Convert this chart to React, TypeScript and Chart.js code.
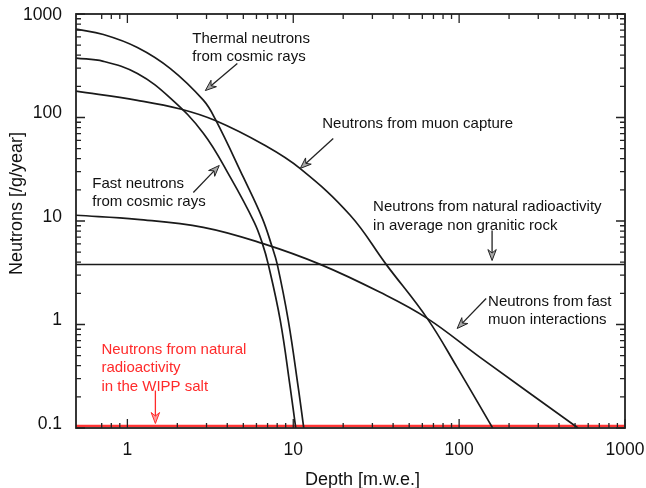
import React, { useEffect, useRef } from 'react';
import { Chart, registerables } from 'chart.js';
Chart.register(...registerables);

// ---- axis ranges / ticks ----
const X_MIN = 0.49;
const X_MAX = 1000;
const Y_MIN = 0.1;
const Y_MAX = 1000;
const xTickValues = [1, 10, 100, 1000];
const yTickValues = [0.1, 1, 10, 100, 1000];
const X_MINOR_START = 0.7;

// ---- series (depth in m.w.e., neutrons per g per year) ----
const thermalX = [0.49, 0.717, 1.149, 1.816, 2.87, 3.389, 5.0, 6.51, 7.47, 8.01, 9.33, 10.72, 11.57];
const thermalY = [714, 634, 475, 297, 147, 96.3, 26.5, 10.6, 5.57, 3.81, 1.096, 0.246, 0.1];

const fastCosmicX = [0.49, 0.717, 1.149, 1.816, 2.87, 4.17, 5.82, 6.51, 7.07, 8.35, 9.59, 10.35];
const fastCosmicY = [375, 349, 266, 154, 70.5, 26.5, 9.71, 6.08, 3.81, 1.096, 0.246, 0.1];

const muonCaptureX = [0.49, 1.149, 2.086, 3.389, 6.6, 11.02, 22.05, 36.3, 64.2, 97.3, 159.2];
const muonCaptureY = [179.7, 146.4, 120.9, 93.5, 54.8, 32.05, 11.36, 3.81, 1.146, 0.385, 0.1];

const fastMuonX = [0.49, 1.149, 2.87, 6.51, 14.54, 33.4, 64.2, 133.8, 521];
const fastMuonY = [11.36, 10.39, 8.69, 6.08, 3.81, 2.044, 1.146, 0.481, 0.1];

const rockX = [0.49, 1000];
const rockY = [3.8, 3.8];

const wippX = [0.49, 1000];
const wippY = [0.105, 0.105];

// ---- annotations (anchors in data units) ----
const annotations = [
  { lines: ['Thermal neutrons', 'from cosmic rays'], x: 2.464, y: 530, color: '#111',
    arrow: [4.6, 332, 2.95, 182] },
  { lines: ['Neutrons from muon capture'], x: 14.95, y: 80, color: '#111',
    arrow: [17.42, 62.7, 11.02, 32.2] },
  { lines: ['Fast neutrons', 'from cosmic rays'], x: 0.615, y: 21.07, color: '#111',
    arrow: [2.498, 18.85, 3.58, 34.4] },
  { lines: ['Neutrons from natural radioactivity', 'in average non granitic rock'], x: 30.3, y: 12.36, color: '#111',
    arrow: [158, 8.09, 158, 4.15] },
  { lines: ['Neutrons from fast', 'muon interactions'], x: 149.5, y: 1.526, color: '#111',
    arrow: [145.5, 1.783, 97.3, 0.915] },
  { lines: ['Neutrons from natural', 'radioactivity', 'in the WIPP salt'], x: 0.697, y: 0.5245, color: '#ff2a2a',
    arrow: [1.475, 0.2303, 1.475, 0.1105] },
];

const FONT = "'Liberation Sans', Arial, Helvetica, sans-serif";

function pts(xs: number[], ys: number[]) {
  return xs.map((x, i) => ({ x, y: ys[i] }));
}

function drawArrow(ctx: CanvasRenderingContext2D, x1: number, y1: number, x2: number, y2: number, color: string, fill: string) {
  const ang = Math.atan2(y2 - y1, x2 - x1);
  const c = Math.cos(ang), s = Math.sin(ang);
  const L = 11, W = 4.2, notch = 3.5;
  const nx = x2 - (L - notch) * c, ny = y2 - (L - notch) * s;
  const bx = x2 - L * c, by = y2 - L * s;
  const px = -s, py = c;
  ctx.save();
  ctx.strokeStyle = color;
  ctx.lineWidth = 1.3;
  ctx.beginPath();
  ctx.moveTo(x1, y1);
  ctx.lineTo(nx, ny);
  ctx.stroke();
  ctx.beginPath();
  ctx.moveTo(x2, y2);
  ctx.lineTo(bx + W * px, by + W * py);
  ctx.lineTo(nx, ny);
  ctx.lineTo(bx - W * px, by - W * py);
  ctx.closePath();
  ctx.fillStyle = fill;
  ctx.fill();
  ctx.lineWidth = 1;
  ctx.stroke();
  ctx.restore();
}

const framePlugin = {
  id: 'frameTicksAnnotations',
  afterDatasetsDraw(chart: any) {
    const ctx: CanvasRenderingContext2D = chart.ctx;
    const { left, right, top, bottom } = chart.chartArea;
    const xs = chart.scales.x;
    const ys = chart.scales.y;
    ctx.save();
    // frame
    ctx.strokeStyle = '#222';
    ctx.lineWidth = 1.8;
    ctx.strokeRect(left, top, right - left, bottom - top);
    // ticks
    ctx.lineWidth = 1.3;
    ctx.beginPath();
    for (let e = -2; e <= 3; e++) {
      for (let j = 1; j <= 9; j++) {
        const v = j * Math.pow(10, e);
        const major = j === 1;
        const len = major ? 9 : 5;
        if (v >= X_MINOR_START - 1e-9 && v <= X_MAX + 1e-9) {
          const px = xs.getPixelForValue(v);
          ctx.moveTo(px, bottom); ctx.lineTo(px, bottom - len);
          ctx.moveTo(px, top); ctx.lineTo(px, top + len);
        }
        if (v >= Y_MIN - 1e-9 && v <= Y_MAX + 1e-9) {
          const py = ys.getPixelForValue(v);
          ctx.moveTo(left, py); ctx.lineTo(left + len, py);
          ctx.moveTo(right, py); ctx.lineTo(right - len, py);
        }
      }
    }
    ctx.stroke();

    // y tick labels
    ctx.fillStyle = '#111';
    ctx.font = `17.5px ${FONT}`;
    ctx.textAlign = 'right';
    ctx.textBaseline = 'middle';
    for (const v of yTickValues) {
      const py = Math.max(ys.getPixelForValue(v) - 4, top + 1.5);
      ctx.fillText(String(v), left - 14, py);
    }

    // axis titles
    ctx.font = `18px ${FONT}`;
    ctx.textAlign = 'center';
    ctx.textBaseline = 'alphabetic';
    ctx.fillText('Depth [m.w.e.]', (left + right) / 2 + 12, 485);
    ctx.save();
    ctx.translate(21.5, (top + bottom) / 2 - 17.5);
    ctx.rotate(-Math.PI / 2);
    ctx.fillText('Neutrons [/g/year]', 0, 0);
    ctx.restore();

    // annotations
    ctx.font = `15px ${FONT}`;
    ctx.textAlign = 'left';
    for (const a of annotations) {
      const tx = xs.getPixelForValue(a.x);
      const ty = ys.getPixelForValue(a.y);
      ctx.fillStyle = a.color;
      a.lines.forEach((ln, i) => ctx.fillText(ln, tx, ty + i * 18.6));
      const [fx, fy, tx2, ty2] = a.arrow;
      const red = a.color !== '#111';
      drawArrow(ctx, xs.getPixelForValue(fx), ys.getPixelForValue(fy), xs.getPixelForValue(tx2), ys.getPixelForValue(ty2),
        red ? '#ff2a2a' : '#222', red ? '#ff9a9a' : '#a8a8a8');
    }
    ctx.restore();
  },
};

export default function App() {
  const ref = useRef<HTMLCanvasElement | null>(null);
  useEffect(() => {
    if (!ref.current) return;
    const line = (xs: number[], ys: number[], color: string, width: number) => ({
      data: pts(xs, ys),
      borderColor: color,
      borderWidth: width,
      pointRadius: 0,
      fill: false,
      tension: 0.4,
    });
    const chart = new Chart(ref.current, {
      type: 'line',
      data: {
        datasets: [
          line(thermalX, thermalY, '#1a1a1a', 1.7),
          line(fastCosmicX, fastCosmicY, '#1a1a1a', 1.7),
          line(muonCaptureX, muonCaptureY, '#1a1a1a', 1.7),
          line(fastMuonX, fastMuonY, '#1a1a1a', 1.7),
          line(rockX, rockY, '#1a1a1a', 1.7),
          line(wippX, wippY, '#ff3535', 2.2),
        ] as any,
      },
      options: {
        animation: false,
        responsive: false,
        devicePixelRatio: 1,
        layout: { padding: { top: 14, right: 21, left: 0, bottom: 0 } },
        plugins: { legend: { display: false }, tooltip: { enabled: false } },
        scales: {
          x: {
            type: 'logarithmic',
            min: X_MIN,
            max: X_MAX,
            grid: { display: false, drawTicks: false },
            border: { display: false },
            afterBuildTicks: (s: any) => { s.ticks = xTickValues.map((v) => ({ value: v })); },
            afterFit: (s: any) => { s.height = 60; s.paddingLeft = 0; s.paddingRight = 0; },
            ticks: {
              autoSkip: false,
              maxRotation: 0,
              padding: 12,
              color: '#111',
              font: { family: FONT, size: 17.5 },
              callback: (v: any) => String(v),
            },
          },
          y: {
            type: 'logarithmic',
            min: Y_MIN,
            max: Y_MAX,
            grid: { display: false, drawTicks: false },
            border: { display: false },
            afterBuildTicks: (s: any) => { s.ticks = yTickValues.map((v) => ({ value: v })); },
            afterFit: (s: any) => { s.width = 76; s.paddingTop = 0; s.paddingBottom = 0; },
            ticks: {
              display: false,
            },
          },
        },
      } as any,
      plugins: [framePlugin],
    });
    return () => chart.destroy();
  }, []);
  return (
    <div style={{ position: 'fixed', left: 0, top: 0, width: 646, height: 488, background: '#fff' }}>
      <canvas ref={ref} width={646} height={488} style={{ width: 646, height: 488, display: 'block' }} />
    </div>
  );
}
